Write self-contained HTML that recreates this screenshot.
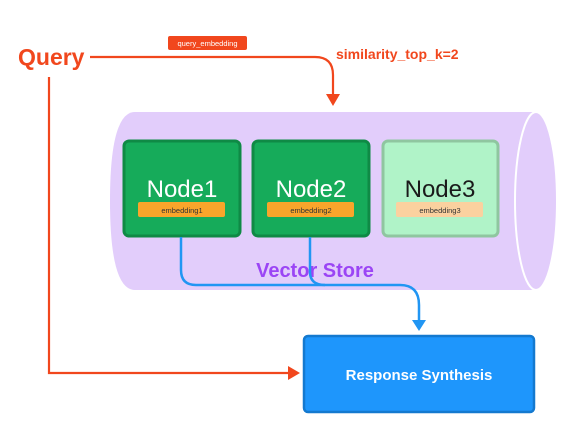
<!DOCTYPE html>
<html><head><style>
body{margin:0;background:#fff;width:571px;height:442px;overflow:hidden;font-family:"Liberation Sans",sans-serif}
</style></head><body>
<svg width="571" height="442" viewBox="0 0 571 442" xmlns="http://www.w3.org/2000/svg" font-family="Liberation Sans, sans-serif">
<path d="M135 112 H537 V290 H135 Q110 290 110 201 Q110 112 135 112 Z" fill="#e2cdfb"/>
<ellipse cx="536" cy="201" rx="21" ry="89" fill="#e2cdfb" stroke="#fff" stroke-width="2"/>
<rect x="124" y="141" width="116" height="95" rx="5" fill="#16ab5a" stroke="#0f8a45" stroke-width="3"/>
<rect x="253" y="141" width="116" height="95" rx="5" fill="#16ab5a" stroke="#0f8a45" stroke-width="3"/>
<rect x="383" y="141" width="115" height="95" rx="5" fill="#b0f3c8" stroke="#8fc6a0" stroke-width="3"/>
<text x="182" y="197" text-anchor="middle" font-size="24" fill="#fff">Node1</text>
<text x="311" y="197" text-anchor="middle" font-size="24" fill="#fff">Node2</text>
<text x="440" y="197" text-anchor="middle" font-size="24" fill="#1a1a1a">Node3</text>
<rect x="138" y="202" width="87" height="15" rx="2" fill="#f9a52b"/>
<rect x="267" y="202" width="87" height="15" rx="2" fill="#f9a52b"/>
<rect x="396" y="202" width="87" height="15" rx="2" fill="#fbd19f"/>
<text x="182" y="213" text-anchor="middle" font-size="7.5" fill="#333">embedding1</text>
<text x="311" y="213" text-anchor="middle" font-size="7.5" fill="#333">embedding2</text>
<text x="440" y="213" text-anchor="middle" font-size="7.5" fill="#333">embedding3</text>
<text x="315" y="277" text-anchor="middle" font-size="20" font-weight="bold" fill="#9b45f5">Vector Store</text>
<path d="M181 237 V270 Q181 285 196 285 H400 Q419 285 419 305 V322" fill="none" stroke="#2196f3" stroke-width="2.5"/>
<path d="M310 237 V272 Q310 285 325 285" fill="none" stroke="#2196f3" stroke-width="2.5"/>
<path d="M412 320 L426 320 L419 331 Z" fill="#2196f3"/>
<rect x="304" y="336" width="230" height="76" rx="4" fill="#1e96fc" stroke="#1479cf" stroke-width="2.5"/>
<text x="419" y="380" text-anchor="middle" font-size="15" font-weight="bold" fill="#fff">Response Synthesis</text>
<text x="18" y="65" font-size="23" font-weight="bold" fill="#f1471d">Query</text>
<path d="M90 57 H315 Q333 57 333 75 V96" fill="none" stroke="#f1471d" stroke-width="2.2"/>
<path d="M326 94 L340 94 L333 106 Z" fill="#f1471d"/>
<rect x="168" y="36" width="79" height="14" rx="2" fill="#f1471d"/>
<text x="207.5" y="46" text-anchor="middle" font-size="7.5" fill="#fff">query_embedding</text>
<text x="336" y="59" font-size="14" font-weight="bold" fill="#f1471d">similarity_top_k=2</text>
<path d="M49 77 V373 H290" fill="none" stroke="#f1471d" stroke-width="2.2"/>
<path d="M288 366 L300 373 L288 380 Z" fill="#f1471d"/>
</svg>
</body></html>
